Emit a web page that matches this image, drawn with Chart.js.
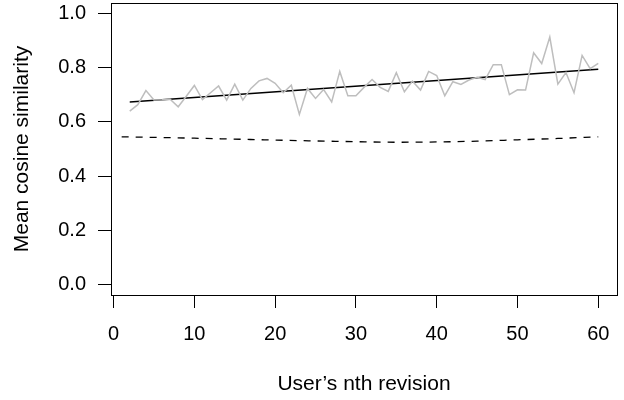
<!DOCTYPE html>
<html>
<head>
<meta charset="utf-8">
<script src="https://cdn.jsdelivr.net/npm/chart.js@4.4.1/dist/chart.umd.min.js"></script>
<style>
  html, body { margin: 0; padding: 0; background: #fff; }
  #wrap { width: 624px; height: 400px; }
</style>
</head>
<body>
<div id="wrap"><canvas id="chart"></canvas></div>
<script>
// user's nth revision
const revisions = [2, 3, 4, 5, 6, 7, 8, 9, 10, 11, 12, 13, 14, 15, 16, 17, 18, 19, 20, 21,
    22, 23, 24, 25, 26, 27, 28, 29, 30, 31, 32, 33, 34, 35, 36, 37, 38, 39, 40, 41,
    42, 43, 44, 45, 46, 47, 48, 49, 50, 51, 52, 53, 54, 55, 56, 57, 58, 59, 60];
// mean cosine similarity per revision (gray)
const meanSim = [0.640, 0.664, 0.716, 0.681, 0.682, 0.684, 0.656, 0.695, 0.735, 0.683,
    0.708, 0.733, 0.681, 0.740, 0.681, 0.724, 0.752, 0.761, 0.743, 0.708,
    0.736, 0.628, 0.724, 0.687, 0.720, 0.674, 0.787, 0.697, 0.697, 0.728,
    0.757, 0.728, 0.713, 0.782, 0.712, 0.751, 0.718, 0.787, 0.772, 0.697,
    0.749, 0.739, 0.755, 0.765, 0.757, 0.812, 0.812, 0.701, 0.719, 0.718,
    0.856, 0.816, 0.914, 0.740, 0.783, 0.708, 0.846, 0.797, 0.817];
// fitted trend (solid black)
const fitX = [2, 60];
const fitY = [0.674, 0.795];
// baseline (dashed)
const baseX = [1, 10, 20, 30, 35, 40, 45, 50, 55, 60];
const baseY = [0.545, 0.540, 0.533, 0.527, 0.525, 0.526, 0.529, 0.534, 0.539, 0.545];

const xTicks = [0, 10, 20, 30, 40, 50, 60];
const yTicks = [0, 0.2, 0.4, 0.6, 0.8, 1.0];

function pts(xs, ys) {
    return xs.map(function (x, i) { return { x: x, y: ys[i] }; });
}

const boxPlugin = {
    id: 'box',
    afterDraw: function (chart) {
        const a = chart.chartArea;
        const c = chart.ctx;
        c.save();
        c.strokeStyle = '#000';
        c.lineWidth = 1;
        c.strokeRect(Math.round(a.left) + 0.5, Math.round(a.top) + 0.5,
            Math.round(a.right - a.left), Math.round(a.bottom - a.top));
        c.restore();
    }
};

Chart.defaults.font.family = '"Liberation Sans", Arial, Helvetica, sans-serif';
Chart.defaults.font.size = 20;
Chart.defaults.color = '#000';

new Chart(document.getElementById('chart'), {
    type: 'scatter',
    data: {
        datasets: [
            {
                data: pts(revisions, meanSim),
                showLine: true,
                borderColor: '#bebebe',
                borderWidth: 1.5,
                pointRadius: 0,
                tension: 0
            },
            {
                data: pts(fitX, fitY),
                showLine: true,
                borderColor: '#000',
                borderWidth: 1.5,
                pointRadius: 0
            },
            {
                data: pts(baseX, baseY),
                showLine: true,
                borderColor: '#000',
                borderWidth: 1.3,
                borderDash: [7, 7],
                pointRadius: 0,
                cubicInterpolationMode: 'monotone'
            }
        ]
    },
    options: {
        responsive: true,
        maintainAspectRatio: false,
        animation: false,
        layout: { padding: { top: 3, right: 7, left: 0, bottom: 0 } },
        plugins: {
            legend: { display: false },
            tooltip: { enabled: false }
        },
        scales: {
            x: {
                type: 'linear',
                min: -0.32,
                max: 62.32,
                afterBuildTicks: function (s) {
                    s.ticks = xTicks.map(function (v) { return { value: v }; });
                },
                afterFit: function (s) {
                    s.height = 105;
                    s.paddingLeft = 0;
                    s.paddingRight = 0;
                },
                border: { display: false },
                grid: {
                    drawOnChartArea: false,
                    drawTicks: true,
                    tickLength: 13,
                    color: '#000',
                    lineWidth: 1
                },
                ticks: {
                    padding: 14,
                    maxRotation: 0,
                    autoSkip: false
                },
                title: {
                    display: true,
                    text: 'User\u2019s nth revision',
                    font: { size: 21 },
                    padding: { top: 0, bottom: 3 }
                }
            },
            y: {
                min: -0.04,
                max: 1.04,
                afterBuildTicks: function (s) {
                    s.ticks = yTicks.map(function (v) { return { value: v }; });
                },
                afterFit: function (s) {
                    s.width = 111;
                    s.paddingTop = 0;
                    s.paddingBottom = 0;
                },
                border: { display: false },
                grid: {
                    drawOnChartArea: false,
                    drawTicks: true,
                    tickLength: 13,
                    color: '#000',
                    lineWidth: 1
                },
                ticks: {
                    padding: 12,
                    autoSkip: false,
                    callback: function (v) { return v.toFixed(1); }
                },
                title: {
                    display: true,
                    text: 'Mean cosine similarity',
                    font: { size: 21 },
                    padding: { top: 10, bottom: 0 }
                }
            }
        }
    },
    plugins: [boxPlugin]
});
</script>
</body>
</html>
